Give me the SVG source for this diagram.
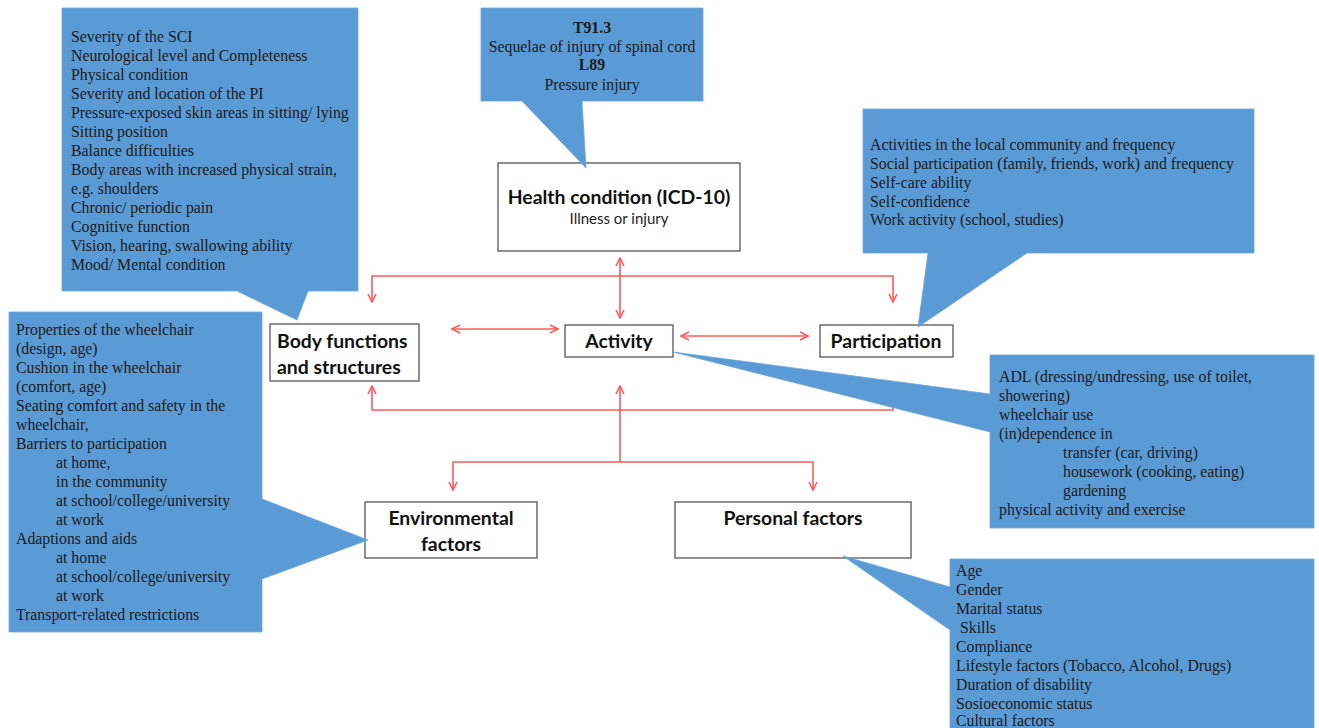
<svg xmlns="http://www.w3.org/2000/svg" width="1319" height="728" viewBox="0 0 1319 728">
<style>
.call{fill:#5b9bd5;stroke:#6aa6dc;stroke-width:0.8}
.ct{font-family:"Liberation Serif","Times New Roman",serif;font-size:15.8px;fill:#1a1a1a}
.b{font-weight:bold}
.box{fill:#fff;stroke:#555;stroke-width:1.3}
.bt{font-family:Lato,"Open Sans",sans-serif;font-weight:bold;font-size:19.4px;fill:#111}
.st{font-family:Lato,"Open Sans",sans-serif;font-size:15px;fill:#222}
.con{fill:none;stroke:#ff5b5b;stroke-width:1.6}
</style>
<defs>
<marker id="ah" viewBox="0 0 10 10" refX="9" refY="5" markerWidth="10" markerHeight="10" markerUnits="userSpaceOnUse" orient="auto-start-reverse">
<path d="M1,1 L9,5 L1,9" fill="none" stroke="#ff5b5b" stroke-width="1.6"/>
</marker>
</defs>
<rect width="1319" height="728" fill="#fff"/>

<g id="connectors">
<path class="con" d="M620,258 V318" marker-start="url(#ah)" marker-end="url(#ah)"/>
<path class="con" d="M372,302 V276 H893 V302" marker-start="url(#ah)" marker-end="url(#ah)"/>
<path class="con" d="M452,329 H558" marker-start="url(#ah)" marker-end="url(#ah)"/>
<path class="con" d="M681,336 H808" marker-start="url(#ah)" marker-end="url(#ah)"/>
<path class="con" d="M372,386 V410 H893 V402" marker-start="url(#ah)"/>
<path class="con" d="M620,462 V386" marker-end="url(#ah)"/>
<path class="con" d="M453,490 V462 H813 V490" marker-start="url(#ah)" marker-end="url(#ah)"/>
</g>

<g id="health-condition">
<rect class="box" x="498" y="163" width="242" height="88"/>
<text class="bt" x="619" y="204" text-anchor="middle">Health condition (ICD-10)</text>
<text class="st" x="619" y="224" text-anchor="middle">Illness or injury</text>
</g>
<g id="body-functions">
<rect class="box" x="270" y="324" width="149" height="57"/>
<text class="bt" x="277" y="348">Body functions</text>
<text class="bt" x="277" y="374">and structures</text>
</g>
<g id="activity">
<rect class="box" x="565" y="325" width="108" height="32"/>
<text class="bt" x="619" y="348" text-anchor="middle">Activity</text>
</g>
<g id="participation">
<rect class="box" x="820" y="325" width="133" height="32"/>
<text class="bt" x="886" y="348" text-anchor="middle">Participation</text>
</g>
<g id="environmental-factors">
<rect class="box" x="365" y="502" width="172" height="56"/>
<text class="bt" x="451" y="525" text-anchor="middle">Environmental</text>
<text class="bt" x="451" y="551" text-anchor="middle">factors</text>
</g>
<g id="personal-factors">
<rect class="box" x="675" y="502" width="236" height="56"/>
<text class="bt" x="793" y="525" text-anchor="middle">Personal factors</text>
</g>

<g id="callout-health">
<path class="call" d="M481,8 H703 V101 H582 L586,168 L522,101 H481 Z"/>
<text class="ct b" x="592" y="33" text-anchor="middle">T91.3</text>
<text class="ct" x="592" y="52" text-anchor="middle">Sequelae of injury of spinal cord</text>
<text class="ct b" x="592" y="70" text-anchor="middle">L89</text>
<text class="ct" x="592" y="90" text-anchor="middle">Pressure injury</text>
</g>
<g id="callout-body">
<path class="call" d="M62,8 H358 V291 H308 L297,320 L237,291 H62 Z"/>
<text class="ct" x="71" y="42">Severity of the SCI</text>
<text class="ct" x="71" y="61">Neurological level and Completeness</text>
<text class="ct" x="71" y="80">Physical condition</text>
<text class="ct" x="71" y="99">Severity and location of the PI</text>
<text class="ct" x="71" y="118">Pressure-exposed skin areas in sitting/ lying</text>
<text class="ct" x="71" y="137">Sitting position</text>
<text class="ct" x="71" y="156">Balance difficulties</text>
<text class="ct" x="71" y="175">Body areas with increased physical strain,</text>
<text class="ct" x="71" y="194">e.g. shoulders</text>
<text class="ct" x="71" y="213">Chronic/ periodic pain</text>
<text class="ct" x="71" y="232">Cognitive function</text>
<text class="ct" x="71" y="251">Vision, hearing, swallowing ability</text>
<text class="ct" x="71" y="270">Mood/ Mental condition</text>
</g>
<g id="callout-participation">
<path class="call" d="M863,109 H1254 V253 H1027 L918,327 L928,253 H863 Z"/>
<text class="ct" x="870" y="150">Activities in the local community and frequency</text>
<text class="ct" x="870" y="169">Social participation (family, friends, work) and frequency</text>
<text class="ct" x="870" y="188">Self-care ability</text>
<text class="ct" x="870" y="207">Self-confidence</text>
<text class="ct" x="870" y="225">Work activity (school, studies)</text>
</g>
<g id="callout-environment">
<path class="call" d="M9,312 H262 V499 L368,540 L262,579 V632 H9 Z"/>
<text class="ct" x="16" y="335">Properties of the wheelchair</text>
<text class="ct" x="16" y="354">(design, age)</text>
<text class="ct" x="16" y="373">Cushion in the wheelchair</text>
<text class="ct" x="16" y="392">(comfort, age)</text>
<text class="ct" x="16" y="411">Seating comfort and safety in the</text>
<text class="ct" x="16" y="430">wheelchair,</text>
<text class="ct" x="16" y="449">Barriers to participation</text>
<text class="ct" x="56" y="468">at home,</text>
<text class="ct" x="56" y="487">in the community</text>
<text class="ct" x="56" y="506">at school/college/university</text>
<text class="ct" x="56" y="525">at work</text>
<text class="ct" x="16" y="544">Adaptions and aids</text>
<text class="ct" x="56" y="563">at home</text>
<text class="ct" x="56" y="582">at school/college/university</text>
<text class="ct" x="56" y="601">at work</text>
<text class="ct" x="16" y="620">Transport-related restrictions</text>
</g>
<g id="callout-activity">
<path class="call" d="M990,355 H1314 V528 H990 V432 L673,352 L990,394 Z"/>
<text class="ct" x="999" y="382">ADL (dressing/undressing, use of toilet,</text>
<text class="ct" x="999" y="401">showering)</text>
<text class="ct" x="999" y="420">wheelchair use</text>
<text class="ct" x="999" y="439">(in)dependence in</text>
<text class="ct" x="1063" y="458">transfer (car, driving)</text>
<text class="ct" x="1063" y="477">housework (cooking, eating)</text>
<text class="ct" x="1063" y="496">gardening</text>
<text class="ct" x="999" y="515">physical activity and exercise</text>
</g>
<g id="callout-personal">
<path class="call" d="M950,559 H1314 V730 H950 V630 L843,556 L950,587 Z"/>
<text class="ct" x="956" y="576">Age</text>
<text class="ct" x="956" y="595">Gender</text>
<text class="ct" x="956" y="614">Marital status</text>
<text class="ct" x="960" y="633">Skills</text>
<text class="ct" x="956" y="652">Compliance</text>
<text class="ct" x="956" y="671">Lifestyle factors (Tobacco, Alcohol, Drugs)</text>
<text class="ct" x="956" y="690">Duration of disability</text>
<text class="ct" x="956" y="709">Sosioeconomic status</text>
<text class="ct" x="956" y="726">Cultural factors</text>
</g>
</svg>
